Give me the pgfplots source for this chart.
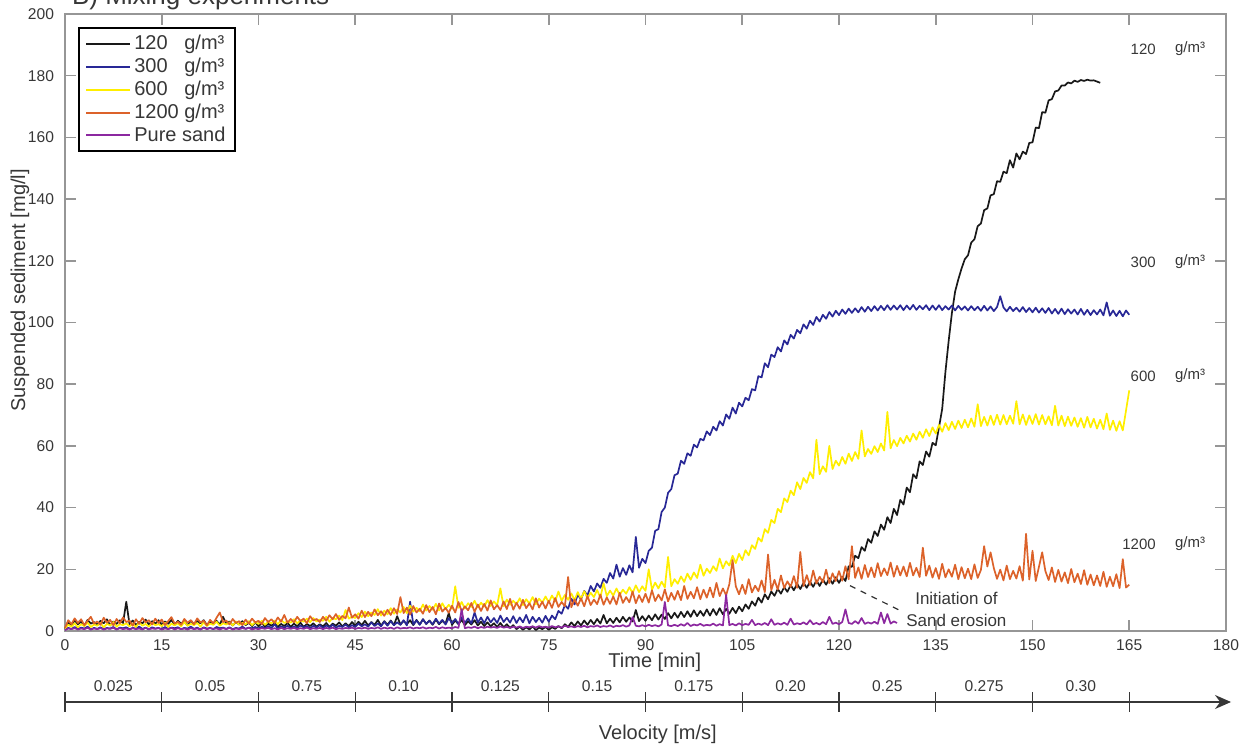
\documentclass[border=0pt]{standalone}
\usepackage{fontspec}
\setmainfont{Liberation Sans}
\usepackage{pgfplots}
\usepackage{pgfplotstable}
\pgfplotsset{compat=1.18}
\usetikzlibrary{arrows.meta}

\definecolor{c120}{RGB}{25,25,25}
\definecolor{c300}{RGB}{40,40,150}
\definecolor{c600}{RGB}{255,238,0}
\definecolor{c1200}{RGB}{220,98,42}
\definecolor{cpure}{RGB}{140,40,160}
\definecolor{axgray}{RGB}{150,150,150}
\definecolor{txtgray}{RGB}{55,55,55}

% sampled every 0.5 min, starting at t = 0
\pgfplotstableread[row sep=\\]{y\\
0.8\\ 2.8\\ 1.9\\ 3.4\\ 2.2\\ 3.0\\ 1.7\\ 3.6\\ 2.4\\ 2.9\\
2.0\\ 3.3\\ 2.5\\ 3.8\\ 1.8\\ 3.1\\ 2.3\\ 3.5\\ 2.6\\ 9.5\\
2.2\\ 3.4\\ 1.9\\ 3.0\\ 2.5\\ 3.7\\ 2.1\\ 3.2\\ 2.4\\ 3.5\\
1.9\\ 3.1\\ 2.3\\ 3.6\\ 2.0\\ 3.3\\ 2.4\\ 3.0\\ 1.8\\ 3.4\\
2.1\\ 3.2\\ 2.5\\ 3.5\\ 1.9\\ 3.0\\ 2.2\\ 3.3\\ 2.0\\ 4.6\\
2.3\\ 3.1\\ 1.8\\ 2.9\\ 2.1\\ 3.2\\ 1.9\\ 2.7\\ 1.6\\ 2.8\\
1.5\\ 2.6\\ 1.4\\ 2.4\\ 1.7\\ 2.5\\ 1.3\\ 2.3\\ 1.6\\ 2.6\\
1.4\\ 2.4\\ 1.5\\ 2.7\\ 1.3\\ 2.3\\ 1.6\\ 2.5\\ 1.4\\ 2.2\\
1.5\\ 2.6\\ 1.3\\ 2.4\\ 1.7\\ 2.8\\ 1.5\\ 2.5\\ 1.6\\ 2.9\\
1.7\\ 3.0\\ 1.9\\ 3.3\\ 1.8\\ 2.9\\ 2.0\\ 3.6\\ 1.7\\ 3.2\\
2.0\\ 3.4\\ 1.9\\ 4.8\\ 2.1\\ 3.3\\ 2.2\\ 3.5\\ 1.9\\ 3.6\\
2.1\\ 3.8\\ 2.3\\ 3.4\\ 2.0\\ 3.7\\ 2.2\\ 3.3\\ 2.4\\ 5.8\\
2.0\\ 3.4\\ 2.2\\ 3.6\\ 1.9\\ 3.2\\ 2.1\\ 3.5\\ 1.8\\ 3.0\\
1.6\\ 2.8\\ 1.5\\ 2.5\\ 1.3\\ 2.6\\ 1.2\\ 2.2\\ 1.0\\ 1.9\\
0.6\\ 1.4\\ 0.4\\ 1.2\\ 0.5\\ 1.5\\ 0.3\\ 1.1\\ 0.6\\ 1.3\\
0.4\\ 1.2\\ 0.7\\ 1.6\\ 0.9\\ 2.2\\ 1.3\\ 2.8\\ 1.6\\ 3.1\\
1.8\\ 3.4\\ 2.0\\ 3.6\\ 2.2\\ 3.9\\ 2.4\\ 5.2\\ 2.5\\ 4.0\\
2.6\\ 4.3\\ 2.8\\ 4.6\\ 3.0\\ 4.4\\ 3.1\\ 6.8\\ 3.2\\ 4.8\\
3.3\\ 5.0\\ 3.5\\ 5.4\\ 3.7\\ 5.3\\ 3.9\\ 5.8\\ 4.1\\ 5.9\\
4.3\\ 6.2\\ 4.5\\ 6.4\\ 4.6\\ 6.7\\ 4.8\\ 6.5\\ 4.9\\ 7.0\\
5.0\\ 7.1\\ 5.2\\ 7.4\\ 5.4\\ 7.2\\ 5.6\\ 7.5\\ 5.8\\ 7.9\\
6.4\\ 8.6\\ 7.2\\ 9.6\\ 8.2\\ 10.8\\ 9.2\\ 11.9\\ 10.3\\ 12.8\\
11.4\\ 13.6\\ 12.1\\ 14.2\\ 12.7\\ 14.9\\ 13.2\\ 15.3\\ 13.6\\ 15.6\\
14.0\\ 16.0\\ 14.3\\ 16.4\\ 14.6\\ 16.7\\ 15.0\\ 17.1\\ 15.3\\ 17.4\\
15.6\\ 17.6\\ 16.2\\ 21.0\\ 20.8\\ 24.4\\ 23.6\\ 27.2\\ 26.0\\ 29.8\\
28.6\\ 32.3\\ 30.8\\ 34.5\\ 32.8\\ 36.9\\ 35.0\\ 39.6\\ 37.6\\ 42.5\\
41.0\\ 46.5\\ 45.0\\ 50.8\\ 49.5\\ 55.0\\ 53.8\\ 58.2\\ 56.5\\ 61.0\\
60.2\\ 66.0\\ 72.0\\ 84.0\\ 94.0\\ 103.0\\ 110.0\\ 114.0\\ 117.5\\ 120.5\\
121.8\\ 125.9\\ 127.0\\ 131.2\\ 132.1\\ 136.4\\ 137.0\\ 141.2\\ 141.6\\ 145.8\\
145.6\\ 148.9\\ 148.4\\ 152.6\\ 150.2\\ 154.8\\ 152.9\\ 155.4\\ 154.6\\ 158.2\\
158.4\\ 163.2\\ 163.0\\ 168.2\\ 168.0\\ 172.0\\ 172.4\\ 174.9\\ 175.2\\ 176.8\\
176.8\\ 177.8\\ 177.5\\ 178.4\\ 178.0\\ 178.6\\ 178.3\\ 178.7\\ 178.4\\ 178.5\\
178.1\\ 177.7\\
}\tblack

\pgfplotstableread[row sep=\\]{y\\
0.5\\ 1.0\\ 0.7\\ 1.3\\ 0.6\\ 1.1\\ 0.8\\ 1.4\\ 0.5\\ 1.0\\
0.7\\ 1.2\\ 0.6\\ 1.0\\ 0.8\\ 1.3\\ 0.5\\ 1.1\\ 0.9\\ 1.2\\
0.6\\ 1.0\\ 0.8\\ 1.4\\ 0.7\\ 1.1\\ 0.5\\ 1.2\\ 0.8\\ 1.0\\
0.6\\ 1.3\\ 0.7\\ 1.1\\ 0.9\\ 1.2\\ 0.6\\ 1.0\\ 0.8\\ 1.4\\
0.7\\ 1.1\\ 0.5\\ 1.2\\ 0.8\\ 1.0\\ 0.6\\ 1.3\\ 0.9\\ 1.1\\
0.7\\ 1.2\\ 0.6\\ 1.0\\ 0.8\\ 1.4\\ 0.7\\ 1.1\\ 0.9\\ 1.3\\
0.8\\ 1.4\\ 0.9\\ 1.6\\ 1.0\\ 2.2\\ 0.8\\ 1.5\\ 1.1\\ 1.7\\
0.9\\ 1.5\\ 1.0\\ 1.8\\ 1.2\\ 1.6\\ 0.9\\ 1.7\\ 1.1\\ 1.9\\
1.0\\ 1.8\\ 1.2\\ 2.0\\ 1.1\\ 1.7\\ 1.3\\ 2.1\\ 1.2\\ 1.9\\
1.3\\ 2.4\\ 1.5\\ 2.2\\ 1.4\\ 2.8\\ 1.6\\ 2.5\\ 1.5\\ 3.0\\
1.7\\ 3.2\\ 1.9\\ 2.8\\ 2.0\\ 3.5\\ 1.8\\ 9.5\\ 2.1\\ 3.4\\
2.0\\ 3.8\\ 2.3\\ 3.3\\ 2.2\\ 4.0\\ 2.4\\ 3.6\\ 2.1\\ 4.2\\
2.5\\ 3.9\\ 2.3\\ 4.5\\ 2.6\\ 4.1\\ 2.4\\ 6.0\\ 2.7\\ 4.4\\
2.5\\ 4.6\\ 2.8\\ 4.2\\ 2.6\\ 5.0\\ 2.9\\ 4.3\\ 2.7\\ 4.8\\
2.6\\ 4.4\\ 2.8\\ 5.2\\ 2.5\\ 4.6\\ 2.9\\ 4.3\\ 2.7\\ 4.9\\
3.0\\ 5.0\\ 3.8\\ 6.5\\ 5.6\\ 8.4\\ 7.2\\ 10.5\\ 8.6\\ 11.8\\
10.2\\ 13.0\\ 11.5\\ 14.6\\ 12.8\\ 15.4\\ 14.0\\ 16.9\\ 15.6\\ 18.8\\
17.0\\ 21.5\\ 17.6\\ 20.4\\ 18.2\\ 21.3\\ 19.0\\ 30.5\\ 20.5\\ 23.4\\
22.0\\ 26.0\\ 27.0\\ 32.5\\ 33.0\\ 38.6\\ 40.0\\ 44.8\\ 46.0\\ 50.5\\
51.0\\ 55.2\\ 54.2\\ 57.6\\ 56.8\\ 60.4\\ 59.5\\ 62.3\\ 61.8\\ 64.7\\
63.5\\ 66.2\\ 65.0\\ 68.0\\ 66.6\\ 70.2\\ 68.8\\ 72.4\\ 70.5\\ 74.0\\
72.8\\ 75.6\\ 74.8\\ 78.4\\ 78.0\\ 82.6\\ 82.2\\ 86.8\\ 85.5\\ 89.6\\
88.8\\ 92.0\\ 90.6\\ 94.2\\ 92.9\\ 96.0\\ 94.8\\ 97.6\\ 96.5\\ 99.4\\
98.0\\ 100.6\\ 99.2\\ 101.8\\ 100.3\\ 102.5\\ 101.2\\ 103.4\\ 101.9\\ 103.8\\
102.4\\ 104.2\\ 102.8\\ 104.5\\ 103.1\\ 104.6\\ 103.3\\ 105.0\\ 103.5\\ 105.1\\
103.7\\ 105.3\\ 103.9\\ 105.4\\ 104.0\\ 105.6\\ 104.1\\ 105.5\\ 104.2\\ 105.6\\
104.0\\ 105.5\\ 104.2\\ 105.7\\ 104.1\\ 105.4\\ 104.3\\ 105.6\\ 104.0\\ 105.5\\
104.1\\ 105.6\\ 104.0\\ 105.3\\ 104.2\\ 105.5\\ 103.9\\ 105.4\\ 104.1\\ 105.2\\
103.9\\ 105.3\\ 104.0\\ 105.1\\ 103.8\\ 105.4\\ 103.9\\ 105.2\\ 103.7\\ 105.0\\
108.5\\ 104.9\\ 103.6\\ 105.1\\ 103.7\\ 104.8\\ 103.5\\ 105.0\\ 103.4\\ 104.7\\
103.3\\ 104.8\\ 103.2\\ 104.6\\ 103.1\\ 104.7\\ 102.9\\ 104.4\\ 102.8\\ 104.5\\
102.7\\ 104.3\\ 102.9\\ 104.2\\ 102.6\\ 104.4\\ 102.5\\ 104.1\\ 102.4\\ 104.0\\
102.6\\ 104.2\\ 102.3\\ 106.5\\ 102.2\\ 103.9\\ 102.1\\ 103.8\\ 102.0\\ 103.9\\
102.5\\
}\tblue

\pgfplotstableread[row sep=\\]{y\\
0.8\\ 2.0\\ 1.4\\ 2.5\\ 1.2\\ 2.2\\ 1.6\\ 2.7\\ 1.3\\ 2.1\\
1.7\\ 2.6\\ 1.2\\ 2.3\\ 1.8\\ 2.9\\ 1.4\\ 2.2\\ 1.9\\ 2.5\\
1.5\\ 2.4\\ 1.3\\ 2.8\\ 1.7\\ 2.3\\ 1.4\\ 2.6\\ 1.9\\ 2.2\\
1.6\\ 2.7\\ 1.3\\ 2.4\\ 1.8\\ 2.5\\ 1.5\\ 2.9\\ 1.7\\ 2.3\\
1.9\\ 2.6\\ 1.4\\ 2.8\\ 1.6\\ 2.4\\ 2.0\\ 3.0\\ 1.7\\ 2.5\\
2.1\\ 2.8\\ 1.8\\ 3.1\\ 2.0\\ 2.6\\ 2.2\\ 3.2\\ 1.9\\ 2.9\\
2.3\\ 3.3\\ 2.0\\ 3.0\\ 2.5\\ 3.4\\ 2.2\\ 3.6\\ 2.6\\ 3.1\\
2.7\\ 3.8\\ 2.5\\ 3.5\\ 3.0\\ 4.0\\ 2.8\\ 4.2\\ 3.1\\ 3.7\\
3.3\\ 4.6\\ 3.0\\ 4.3\\ 3.8\\ 5.0\\ 3.5\\ 6.8\\ 4.0\\ 4.7\\
4.2\\ 5.8\\ 4.5\\ 6.3\\ 4.8\\ 6.0\\ 5.2\\ 7.1\\ 5.0\\ 6.6\\
5.4\\ 7.4\\ 5.6\\ 7.0\\ 6.0\\ 7.8\\ 5.8\\ 8.2\\ 6.3\\ 7.5\\
6.4\\ 8.6\\ 6.6\\ 8.1\\ 6.9\\ 8.8\\ 6.7\\ 9.0\\ 7.1\\ 8.5\\
7.2\\ 14.5\\ 7.5\\ 9.4\\ 7.3\\ 9.0\\ 7.8\\ 9.8\\ 7.6\\ 9.2\\
7.9\\ 10.0\\ 8.1\\ 9.6\\ 8.3\\ 13.8\\ 8.0\\ 10.2\\ 8.5\\ 9.8\\
8.6\\ 10.6\\ 8.4\\ 10.3\\ 8.9\\ 11.0\\ 8.7\\ 10.5\\ 9.2\\ 11.2\\
9.3\\ 11.5\\ 9.6\\ 12.8\\ 9.8\\ 11.7\\ 10.1\\ 12.2\\ 10.0\\ 12.6\\
10.4\\ 12.9\\ 10.6\\ 12.4\\ 11.0\\ 13.3\\ 10.8\\ 15.5\\ 11.3\\ 13.1\\
11.5\\ 13.8\\ 11.7\\ 13.4\\ 12.1\\ 14.2\\ 12.3\\ 14.8\\ 12.6\\ 14.5\\
13.0\\ 20.0\\ 13.4\\ 15.7\\ 13.8\\ 16.0\\ 14.1\\ 24.0\\ 14.5\\ 16.8\\
15.3\\ 17.7\\ 15.9\\ 18.6\\ 16.6\\ 19.0\\ 17.2\\ 21.5\\ 17.9\\ 20.2\\
18.8\\ 21.0\\ 19.5\\ 23.5\\ 20.3\\ 22.6\\ 21.2\\ 24.4\\ 22.0\\ 25.0\\
23.0\\ 26.2\\ 24.5\\ 27.8\\ 26.6\\ 30.2\\ 29.0\\ 33.0\\ 31.8\\ 36.0\\
35.0\\ 39.6\\ 38.5\\ 43.0\\ 41.8\\ 45.5\\ 44.0\\ 48.2\\ 46.0\\ 49.6\\
48.0\\ 51.5\\ 49.5\\ 62.0\\ 50.8\\ 53.4\\ 51.6\\ 60.0\\ 52.5\\ 55.2\\
53.6\\ 56.4\\ 54.2\\ 57.5\\ 55.1\\ 58.0\\ 55.8\\ 65.0\\ 56.6\\ 59.0\\
57.4\\ 59.9\\ 58.0\\ 60.8\\ 58.5\\ 71.0\\ 59.2\\ 61.9\\ 59.9\\ 62.6\\
60.8\\ 63.3\\ 61.4\\ 64.0\\ 62.0\\ 64.6\\ 62.6\\ 65.4\\ 63.2\\ 66.0\\
64.0\\ 66.8\\ 64.6\\ 67.4\\ 65.1\\ 67.8\\ 65.5\\ 68.2\\ 65.8\\ 68.5\\
66.0\\ 68.9\\ 66.2\\ 73.5\\ 66.4\\ 69.4\\ 66.6\\ 69.8\\ 66.8\\ 70.1\\
66.9\\ 70.0\\ 67.0\\ 69.8\\ 67.2\\ 74.5\\ 67.0\\ 70.2\\ 66.8\\ 69.9\\
67.1\\ 70.3\\ 66.9\\ 70.0\\ 67.0\\ 69.6\\ 66.7\\ 73.0\\ 66.6\\ 69.8\\
66.4\\ 69.5\\ 66.5\\ 69.2\\ 66.2\\ 69.0\\ 65.9\\ 69.4\\ 66.0\\ 68.8\\
65.6\\ 68.5\\ 65.4\\ 70.5\\ 65.2\\ 68.2\\ 64.9\\ 68.0\\ 65.0\\ 71.5\\
78.0\\
}\tyellow

\pgfplotstableread[row sep=\\]{y\\
1.0\\ 3.5\\ 2.2\\ 4.1\\ 2.6\\ 3.8\\ 1.9\\ 3.3\\ 4.6\\ 2.4\\
3.1\\ 2.0\\ 4.3\\ 2.7\\ 3.6\\ 1.8\\ 3.9\\ 2.5\\ 4.4\\ 2.9\\
3.4\\ 1.7\\ 3.8\\ 2.3\\ 4.2\\ 2.8\\ 3.5\\ 2.1\\ 4.0\\ 2.6\\
3.7\\ 1.9\\ 3.2\\ 4.5\\ 2.4\\ 3.0\\ 2.0\\ 3.9\\ 2.7\\ 3.5\\
2.2\\ 4.1\\ 2.8\\ 3.3\\ 1.8\\ 3.6\\ 2.5\\ 4.3\\ 6.0\\ 2.9\\
3.4\\ 2.1\\ 3.9\\ 2.6\\ 3.2\\ 1.9\\ 3.7\\ 2.4\\ 4.0\\ 2.8\\
3.3\\ 2.2\\ 4.2\\ 2.9\\ 3.8\\ 2.6\\ 4.4\\ 3.0\\ 5.2\\ 2.7\\
3.9\\ 2.8\\ 4.6\\ 3.2\\ 4.0\\ 2.5\\ 4.8\\ 3.4\\ 3.9\\ 2.9\\
4.6\\ 3.3\\ 5.1\\ 3.8\\ 5.5\\ 3.6\\ 4.9\\ 4.1\\ 7.6\\ 4.3\\
5.4\\ 4.0\\ 6.6\\ 4.5\\ 6.2\\ 4.8\\ 7.0\\ 5.1\\ 6.4\\ 4.9\\
6.9\\ 5.2\\ 7.4\\ 5.5\\ 11.0\\ 5.8\\ 7.6\\ 5.3\\ 8.1\\ 6.0\\
7.2\\ 5.6\\ 8.4\\ 6.1\\ 7.8\\ 5.4\\ 8.9\\ 6.3\\ 7.5\\ 5.9\\
8.2\\ 6.0\\ 9.4\\ 6.4\\ 8.0\\ 6.7\\ 9.1\\ 6.2\\ 8.6\\ 6.5\\
8.8\\ 6.6\\ 9.9\\ 7.0\\ 8.4\\ 6.8\\ 9.6\\ 7.1\\ 10.4\\ 6.9\\
9.2\\ 7.2\\ 10.1\\ 7.4\\ 9.0\\ 7.0\\ 10.6\\ 7.6\\ 9.5\\ 7.3\\
9.8\\ 7.5\\ 10.7\\ 7.8\\ 9.4\\ 8.0\\ 17.5\\ 7.7\\ 10.3\\ 8.2\\
10.6\\ 8.0\\ 11.4\\ 8.4\\ 10.2\\ 8.7\\ 11.8\\ 8.5\\ 10.9\\ 8.8\\
11.2\\ 8.6\\ 12.4\\ 9.1\\ 11.0\\ 9.3\\ 12.8\\ 9.0\\ 11.6\\ 9.4\\
12.1\\ 9.2\\ 13.2\\ 9.7\\ 11.8\\ 9.9\\ 13.5\\ 9.6\\ 12.4\\ 10.1\\
13.0\\ 10.0\\ 14.6\\ 10.4\\ 12.7\\ 10.6\\ 14.2\\ 10.3\\ 13.4\\ 10.8\\
14.1\\ 10.9\\ 15.6\\ 11.3\\ 13.8\\ 11.6\\ 15.2\\ 23.0\\ 14.5\\ 11.9\\
15.0\\ 12.0\\ 16.8\\ 12.5\\ 14.7\\ 12.9\\ 16.4\\ 12.6\\ 24.8\\ 13.2\\
16.6\\ 13.4\\ 18.0\\ 13.9\\ 16.1\\ 14.3\\ 17.8\\ 14.0\\ 25.6\\ 14.6\\
18.1\\ 14.9\\ 19.6\\ 15.4\\ 17.6\\ 15.8\\ 19.9\\ 15.5\\ 18.7\\ 16.2\\
19.4\\ 16.3\\ 21.0\\ 16.8\\ 27.5\\ 17.2\\ 20.6\\ 16.9\\ 21.4\\ 17.5\\
20.6\\ 17.4\\ 22.0\\ 17.8\\ 20.3\\ 18.1\\ 22.2\\ 17.6\\ 21.1\\ 18.0\\
20.9\\ 17.7\\ 22.1\\ 18.0\\ 20.5\\ 17.5\\ 27.0\\ 17.9\\ 21.2\\ 17.3\\
20.4\\ 16.9\\ 21.8\\ 17.4\\ 20.0\\ 17.6\\ 21.5\\ 16.8\\ 20.7\\ 17.1\\
20.2\\ 16.8\\ 21.6\\ 17.2\\ 19.8\\ 27.5\\ 20.9\\ 25.5\\ 20.4\\ 16.9\\
19.9\\ 16.4\\ 21.2\\ 16.8\\ 19.5\\ 17.0\\ 21.0\\ 16.3\\ 31.5\\ 16.7\\
26.0\\ 16.2\\ 20.8\\ 25.5\\ 19.4\\ 16.5\\ 20.6\\ 15.9\\ 19.8\\ 16.0\\
19.0\\ 15.5\\ 20.1\\ 15.8\\ 18.6\\ 15.2\\ 19.7\\ 15.0\\ 18.3\\ 14.8\\
18.0\\ 14.6\\ 19.2\\ 14.3\\ 17.6\\ 14.5\\ 18.4\\ 13.9\\ 23.3\\ 14.1\\
15.0\\
}\torange

\pgfplotstableread[row sep=\\]{y\\
0.3\\ 0.8\\ 0.6\\ 0.9\\ 0.5\\ 0.8\\ 0.6\\ 1.0\\ 0.5\\ 0.8\\
0.6\\ 0.9\\ 0.5\\ 0.8\\ 0.7\\ 1.0\\ 0.5\\ 0.9\\ 0.6\\ 0.8\\
0.5\\ 0.9\\ 0.6\\ 0.8\\ 0.5\\ 1.0\\ 0.6\\ 0.8\\ 0.7\\ 0.9\\
0.5\\ 0.8\\ 0.6\\ 1.0\\ 0.5\\ 0.9\\ 0.6\\ 0.8\\ 0.5\\ 0.9\\
0.6\\ 0.8\\ 0.5\\ 1.0\\ 0.6\\ 0.9\\ 0.7\\ 0.8\\ 0.5\\ 0.9\\
0.6\\ 1.0\\ 0.5\\ 0.8\\ 0.6\\ 0.9\\ 0.7\\ 1.0\\ 0.5\\ 0.8\\
0.6\\ 0.9\\ 0.7\\ 1.0\\ 0.6\\ 0.9\\ 0.5\\ 1.0\\ 0.6\\ 0.9\\
0.7\\ 1.0\\ 0.6\\ 0.9\\ 0.7\\ 1.1\\ 0.6\\ 0.9\\ 0.7\\ 1.0\\
0.6\\ 1.0\\ 0.7\\ 1.1\\ 0.6\\ 0.9\\ 0.7\\ 1.0\\ 0.8\\ 1.1\\
0.7\\ 1.0\\ 0.8\\ 1.1\\ 0.7\\ 1.0\\ 0.8\\ 1.2\\ 0.7\\ 1.1\\
0.8\\ 1.1\\ 0.7\\ 1.2\\ 0.8\\ 1.0\\ 0.9\\ 1.2\\ 0.8\\ 1.1\\
0.9\\ 1.2\\ 0.8\\ 1.1\\ 0.9\\ 1.3\\ 0.8\\ 1.2\\ 0.9\\ 1.1\\
0.9\\ 1.3\\ 1.0\\ 7.0\\ 0.9\\ 1.2\\ 1.0\\ 1.4\\ 0.9\\ 1.3\\
1.0\\ 1.4\\ 1.1\\ 1.3\\ 1.0\\ 1.5\\ 1.1\\ 1.3\\ 1.0\\ 1.4\\
1.1\\ 1.5\\ 1.0\\ 1.4\\ 1.2\\ 1.5\\ 1.1\\ 1.6\\ 1.2\\ 1.4\\
1.1\\ 1.6\\ 1.2\\ 1.5\\ 1.1\\ 1.7\\ 1.3\\ 1.5\\ 1.2\\ 1.6\\
1.3\\ 1.7\\ 1.2\\ 1.6\\ 1.4\\ 1.8\\ 1.3\\ 1.6\\ 1.4\\ 1.8\\
1.3\\ 1.7\\ 1.5\\ 1.9\\ 1.4\\ 1.8\\ 4.5\\ 1.7\\ 1.5\\ 1.9\\
1.5\\ 2.0\\ 1.6\\ 1.9\\ 1.5\\ 2.1\\ 9.4\\ 1.8\\ 1.6\\ 2.0\\
1.6\\ 2.2\\ 1.7\\ 2.6\\ 1.6\\ 2.1\\ 1.8\\ 2.3\\ 1.7\\ 2.0\\
1.8\\ 2.4\\ 1.7\\ 2.2\\ 1.8\\ 11.7\\ 1.9\\ 2.3\\ 1.8\\ 2.5\\
1.9\\ 2.3\\ 2.0\\ 3.6\\ 1.9\\ 2.4\\ 2.0\\ 2.6\\ 1.9\\ 3.8\\
2.0\\ 2.5\\ 2.1\\ 2.7\\ 2.0\\ 4.0\\ 2.1\\ 2.5\\ 2.2\\ 2.8\\
2.1\\ 3.5\\ 2.2\\ 2.6\\ 2.1\\ 2.9\\ 2.2\\ 4.6\\ 2.3\\ 2.7\\
2.2\\ 2.9\\ 7.0\\ 2.6\\ 2.3\\ 3.2\\ 2.4\\ 4.2\\ 2.3\\ 2.8\\
2.4\\ 3.0\\ 2.3\\ 6.0\\ 2.5\\ 5.5\\ 2.4\\ 3.1\\ 2.6\\
}\tpure

\begin{document}
\begin{tikzpicture}
\begin{axis}[
  name=ax, at={(0,0)}, anchor=south west,
  scale only axis, width=580.5pt, height=308.5pt,
  xmin=0, xmax=180, ymin=0, ymax=200,
  xtick={0,15,...,180}, ytick={0,20,...,200},
  tick align=inside, major tick length=5.5pt,
  axis line style={axgray, line width=1pt},
  tick style={axgray, line width=0.8pt},
  tick label style={font=\fontsize{7.8}{9}\selectfont, text=txtgray},
  /pgf/number format/assume math mode=true,
  xticklabel style={yshift=-1pt},
  yticklabel style={xshift=-2pt},
  xlabel={Time [min]}, ylabel={Suspended sediment [mg/l]},
  label style={font=\fontsize{10}{12}\selectfont, text=txtgray},
  xlabel style={at={(axis description cs:0.508,-0.0502)}, anchor=center},
  ylabel style={at={(axis description cs:-0.0388,0.552)}, anchor=center},
  legend cell align=left,
  legend style={at={(axis description cs:0.0113,0.979)}, anchor=north west,
    draw=black, line width=1pt, font=\fontsize{10}{12}\selectfont,
    inner xsep=3pt, inner ysep=2pt, row sep=-0.5pt,
    nodes={inner sep=1.6pt, text=txtgray}},
  legend image code/.code={\draw[#1, line width=1pt] (0pt,0pt) -- (22pt,0pt);},
  every axis plot/.append style={line width=0.85pt, line join=round},
  clip=false,
]
\addplot[c120] table[x expr=\coordindex*0.5, y=y] {\tblack};
\addlegendentry{120\phantom{0} g/m³}
\addplot[c300] table[x expr=\coordindex*0.5, y=y] {\tblue};
\addlegendentry{300\phantom{0} g/m³}
\addplot[c600] table[x expr=\coordindex*0.5, y=y] {\tyellow};
\addlegendentry{600\phantom{0} g/m³}
\addplot[c1200] table[x expr=\coordindex*0.5, y=y] {\torange};
\addlegendentry{1200 g/m³}
\addplot[cpure] table[x expr=\coordindex*0.5, y=y] {\tpure};
\addlegendentry{Pure sand}

% title, partly cut off by the page edge as in the original
\node[anchor=base west, font=\fontsize{13}{15}\selectfont, text=txtgray]
  at ([yshift=4.75pt]rel axis cs:0,1) {B) Mixing experiments};

% concentration labels on the right
\begin{scope}[every node/.style={font=\fontsize{7.5}{9}\selectfont, text=txtgray}]
\node[anchor=east] at (axis cs:170.2,188.7) {120};
\node[anchor=west] at (axis cs:171.0,188.7) {g/m³};
\node[anchor=east] at (axis cs:170.2,119.6) {300};
\node[anchor=west] at (axis cs:171.0,119.6) {g/m³};
\node[anchor=east] at (axis cs:170.2,82.7) {600};
\node[anchor=west] at (axis cs:171.0,82.7) {g/m³};
\node[anchor=east] at (axis cs:170.2,28.2) {1200};
\node[anchor=west] at (axis cs:171.0,28.2) {g/m³};
\end{scope}

% annotation
\draw[black!80, dashed, line width=0.6pt] (axis cs:121.7,14.7) -- (axis cs:129.5,6.6);
\node[font=\fontsize{8.5}{11}\selectfont, text=txtgray, align=center]
  at (axis cs:138.2,7.1) {Initiation of\\Sand erosion};
\end{axis}

% velocity scale below the time axis (1 min = 3.225pt)
\draw[txtgray, line width=0.6pt, -{Stealth[length=8pt,width=7pt]}]
  (0pt,-35.5pt) -- (583pt,-35.5pt);
\foreach \t in {0,15,...,165}
  \draw[txtgray, line width=0.6pt] ({\t*3.225pt},-30.5pt) -- ({\t*3.225pt},-40.5pt);
\foreach \t/\v in {7.5/0.025, 22.5/0.05, 37.5/0.75, 52.5/0.10, 67.5/0.125,
    82.5/0.15, 97.5/0.175, 112.5/0.20, 127.5/0.25, 142.5/0.275, 157.5/0.30}
  \node[font=\fontsize{7.8}{9}\selectfont, text=txtgray] at ({\t*3.225pt},-27.5pt) {\v};
\node[font=\fontsize{10}{12}\selectfont, text=txtgray] at (296.4pt,-51.5pt) {Velocity [m/s]};

\pgfresetboundingbox
\path[use as bounding box] (-32.5pt,-59.5pt) rectangle (594pt,315.5pt);
\end{tikzpicture}
\end{document}
